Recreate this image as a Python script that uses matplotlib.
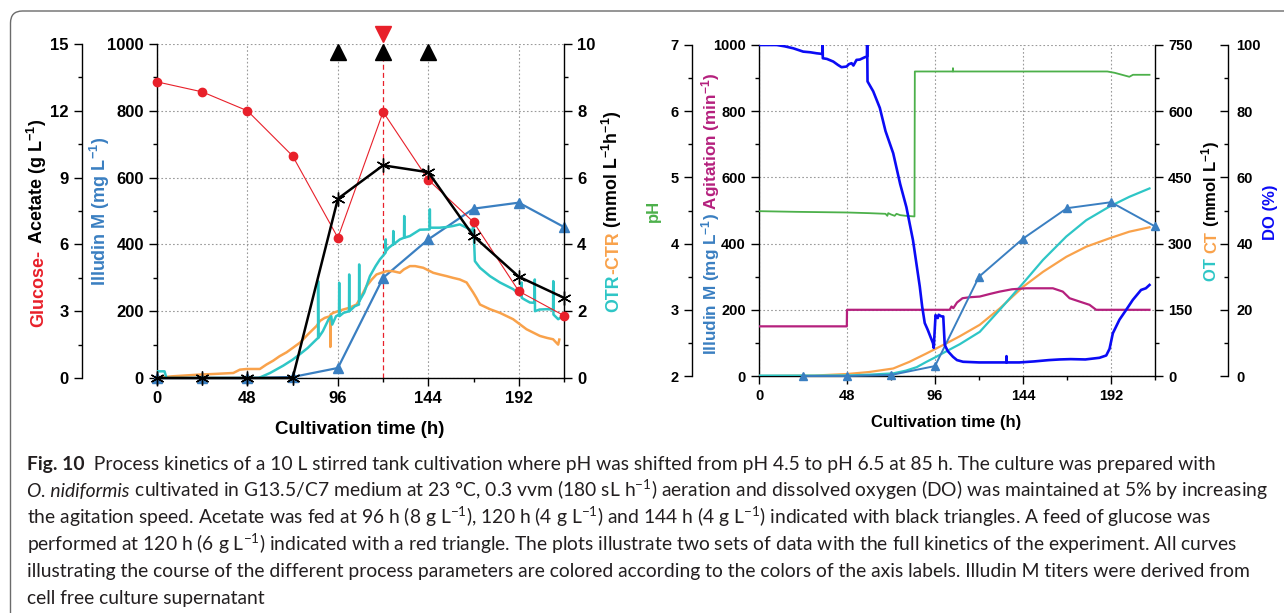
import matplotlib
matplotlib.use('Agg')
import matplotlib.pyplot as plt
from matplotlib.patches import FancyBboxPatch
from matplotlib.ticker import MultipleLocator
from matplotlib.transforms import IdentityTransform, blended_transform_factory

plt.rcParams['font.family'] = ['Liberation Sans', 'DejaVu Sans']
plt.rcParams['font.weight'] = 'bold'
plt.rcParams['mathtext.default'] = 'regular'
plt.rcParams['axes.linewidth'] = 1.0

# ---------------- data: offline samples (every 24 h)
t_smp = [0, 24, 48, 72, 96, 120, 144, 168, 192, 216]
glucose = [13.3, 12.85, 12.0, 9.97, 6.3, 11.95, 8.9, 7.0, 3.9, 2.8]        # g/L
acetate = [0, 0, 0, 0, 8.05, 9.55, 9.24, 6.37, 4.55, 3.6]                  # g/L
illudin = [0, 0, 0, 3, 30, 300, 415, 507, 525, 452]                       # mg/L
feed_acetate = [96, 120, 144]
feed_glucose = [120]

# online OTR / CTR (mmol/L/h)
otr_t = [0, 4, 5, 54, 60, 67, 72, 76, 80, 84.7, 85.5, 85.5, 85.6, 88, 91, 92.5, 93, 95, 96.6, 96.7,
         96.8, 99, 101.9, 102, 102.1, 105, 107.2, 107.3, 107.4, 110, 113, 116, 118.3, 121.3, 121.4, 121.5,
         123, 125.3, 125.4, 125.5, 128.9, 131.1, 131.2, 131.3, 134.2, 139.5, 144.7, 144.8, 144.9, 146.5,
         150, 153.7, 157, 160.7, 164.3, 167.5, 167.9, 168.7, 171.4, 176.7, 182, 189, 192.5, 193.4, 193.5,
         193.6, 195, 197.9, 200.4, 200.5, 200.6, 203, 206.7, 210.2, 210.3, 210.4, 212.9, 214]
otr = [0.2, 0.2, 0, 0, 0.15, 0.37, 0.55, 0.72, 0.9, 1.16, 1.2, 2.9, 1.2, 1.4, 1.75, 1.85, 1.6, 1.85, 1.9, 2.85,
       1.85, 1.95, 2.0, 3.1, 2.0, 2.15, 2.2, 3.4, 2.3, 2.56, 3.05, 3.35, 3.55, 3.75, 4.15, 3.8,
       3.9, 4.0, 4.4, 4.0, 4.15, 4.2, 4.85, 4.2, 4.25, 4.44, 4.45, 5.05, 4.5, 4.5,
       4.5, 4.52, 4.55, 4.6, 4.5, 4.4, 4.65, 3.5, 3.3, 3.05, 2.86, 2.66, 2.5, 2.45, 2.86,
       2.4, 2.35, 2.26, 2.25, 2.95, 2.0, 2.05, 2.06, 2.05, 2.9, 1.9, 1.76, 1.8]
ctr_t = [0, 8, 22, 30, 40.5, 44, 47.6, 54.6, 58, 61.7, 65, 68.8, 72, 75.9, 80, 84.7, 86.5, 89, 91.9, 92.0,
         92.1, 93.5, 96, 98.8, 102, 105.9, 108, 111.2, 114, 116.5, 121.8, 125, 128.9, 131, 134.2, 137,
         141.3, 146.6, 150, 153.7, 157, 160.7, 164.3, 167.8, 169.5, 171.4, 176.7, 182, 189, 196.1,
         200, 203.2, 207, 210.2, 212.9, 213.5]
ctr = [0, 0.05, 0.1, 0.12, 0.15, 0.25, 0.27, 0.27, 0.4, 0.52, 0.65, 0.77, 0.9, 1.06, 1.3, 1.56, 1.71, 1.8, 1.85, 0.93,
       1.9, 1.95, 2.0, 2.05, 2.1, 2.2, 2.4, 2.75, 2.95, 3.1, 3.2, 3.2, 3.15, 3.25, 3.35, 3.35,
       3.3, 3.15, 3.1, 3.05, 3.0, 2.95, 2.86, 2.56, 2.4, 2.2, 2.06, 1.95, 1.76, 1.46,
       1.35, 1.26, 1.2, 1.16, 1.0, 1.15]

# online DO (%), pH, agitation (1/min), OT / CT (mmol/L)
do_t = [0, 9.6, 14, 18.7, 24.1, 28, 31.4, 34.6, 34.7, 34.8, 37, 40.5, 43, 45, 47.8, 49, 50.5, 51.5, 53.2, 55,
        57.7, 58.9, 59.0, 59.2, 62.3, 65.9, 69, 73.2, 77, 80.4, 84, 87.7, 89, 90.4, 92, 94.9, 95.3, 96.3, 97.5, 98,
        99.5, 100.5, 101.3, 103, 105.8, 108, 111.3, 120, 130, 134.9, 135, 135.1, 142, 150, 158, 164, 170, 178,
        185.7, 189.4, 191.2, 193, 196.6, 200.3, 203.9, 208.4, 211, 213]
do = [100, 100, 99.6, 99, 98, 97.8, 97.5, 97.3, 101, 96, 95.8, 95, 94, 93.3, 93.5, 94.2, 94.5, 93.8, 95.5, 95.6,
      96.3, 96.5, 101, 89, 86, 81, 74, 67.3, 58, 51, 41, 27, 21, 16, 14, 9.9, 8.5, 18.4, 17.5, 18.5,
      18, 18, 9.4, 7.5, 5.8, 4.8, 4.3, 4.1, 4.1, 4.1, 6, 4.1, 4.1, 4.4, 4.8, 5.0, 5.1, 5.0,
      5.5, 6.2, 8.2, 12.9, 17, 20, 23, 26, 26.5, 27.5]
ph_t = [0, 20, 48, 60, 69, 70, 70.5, 72, 74, 75, 77, 80, 84.8, 85, 100, 105.7, 105.8, 105.9, 130, 160, 190,
        194, 198, 202, 204, 213]
ph = [4.49, 4.48, 4.47, 4.46, 4.45, 4.42, 4.46, 4.44, 4.42, 4.45, 4.43, 4.42, 4.41, 6.6, 6.6, 6.6, 6.65, 6.6,
      6.6, 6.6, 6.6, 6.58, 6.55, 6.52, 6.55, 6.55]
agi_t = [0, 47.9, 48, 104, 105, 106, 108, 111, 115, 120.4, 126, 131.3, 138, 145.8, 153, 160.3, 165.7, 169.4,
         174.8, 180.3, 183.9, 213]
agi = [150, 150, 200, 200, 210, 205, 222, 235, 238, 240, 248, 255, 262, 265, 265, 265, 255, 235, 225, 215, 200, 200]
ot_t = [0, 30, 50, 60, 73.2, 80, 86, 91.3, 96, 102.2, 109.5, 120.4, 131.3, 144, 154.9, 167.6, 178.5, 191.2, 202, 213]
ot = [1, 1, 1.5, 3, 6, 12, 20, 32, 42, 56, 72, 100, 150, 210, 263, 316, 353, 384, 406, 425]
ct_t = [0, 30, 48, 60, 73.2, 82, 91.3, 102.2, 109.5, 120.4, 131.3, 144, 154.9, 167.6, 178.5, 191.2, 202, 213]
ct = [0, 1, 4.5, 9, 17, 32, 51, 74, 90, 116, 153, 202, 236, 270, 293, 312, 327, 337]

RED = '#e8202a'
BLUE = '#3a7fc1'
CYAN = '#2ec6c6'
ORANGE = '#f9a24b'
GREEN = '#4cb04a'
MAGENTA = '#b5207d'
DOBLUE = '#0b0bf5'
GRID = '#9a9a9a'

W, H = 1284, 613
fig = plt.figure(figsize=(W / 100, H / 100), dpi=100)


def box(l, t, r, b):
    return [l / W, 1 - b / H, (r - l) / W, (b - t) / H]


def rainbow(x, y, parts, size, rot=0, center=True):
    r = fig.canvas.get_renderer()
    ts = []
    for s, c, kw in parts:
        ts.append(fig.text(0, 0, s, color=c, fontsize=size, rotation=rot, rotation_mode='anchor',
                           ha='left', va='baseline', **kw))
    lens = [(t.get_window_extent(r).height if rot else t.get_window_extent(r).width) for t in ts]
    if rot:
        pos = y + sum(lens) / 2 if center else y
    else:
        pos = x - sum(lens) / 2 if center else x
    for t, L in zip(ts, lens):
        if rot:
            t.set_position((x / W, 1 - pos / H))
            pos -= L
        else:
            t.set_position((pos / W, 1 - y / H))
            pos += L
    return ts


def only_spine(ax, keep):
    for k, s in ax.spines.items():
        s.set_visible(k in keep)
    ax.patch.set_visible(False)


def ticks(ax, axis, size, direction='out'):
    ax.tick_params(axis=axis, which='major', length=6, width=1.0, labelsize=size, direction=direction)
    ax.tick_params(axis=axis, which='minor', length=3, width=1.0, direction=direction)


# ================= left panel
axL = fig.add_axes(box(157, 44, 564, 378))
only_spine(axL, ['left', 'bottom'])
axL.set_xlim(0, 216)
axL.set_ylim(0, 1000)
axL.xaxis.set_major_locator(MultipleLocator(48))
axL.xaxis.set_minor_locator(MultipleLocator(24))
axL.yaxis.set_major_locator(MultipleLocator(200))
axL.yaxis.set_minor_locator(MultipleLocator(100))
axL.grid(True, which='major', color=GRID, linestyle=(0, (1.5, 2)), linewidth=0.8)
ticks(axL, 'both', 12)
axL.plot(t_smp, illudin, color=BLUE, lw=1.6, marker='^', ms=7, clip_on=False, zorder=3)
axL.axvline(feed_glucose[0], color=RED, lw=0.9, ls=(0, (4, 2.5)), zorder=2)
trans = blended_transform_factory(axL.transData, axL.transAxes)
axL.plot(feed_acetate, [0.975] * len(feed_acetate), ls='none', marker='^', ms=11, color='black',
         transform=trans, clip_on=False, zorder=5)
axL.plot(feed_glucose, [1.03] * len(feed_glucose), ls='none', marker='v', ms=11, color=RED,
         transform=trans, clip_on=False, zorder=5)

axO = axL.twinx()
only_spine(axO, ['right'])
axO.set_ylim(0, 10)
axO.yaxis.set_major_locator(MultipleLocator(2))
axO.yaxis.set_minor_locator(MultipleLocator(1))
ticks(axO, 'y', 12)
axO.plot(ctr_t, ctr, color=ORANGE, lw=1.8)
axO.plot(otr_t, otr, color=CYAN, lw=1.8)

axG = axL.twinx()
only_spine(axG, ['left'])
axG.spines['left'].set_position(('axes', -0.1843))
axG.yaxis.tick_left()
axG.set_ylim(0, 15)
axG.yaxis.set_major_locator(MultipleLocator(3))
axG.yaxis.set_minor_locator(MultipleLocator(1.5))
ticks(axG, 'y', 12)
axG.plot(t_smp, glucose, color=RED, lw=0.8, marker='o', ms=6, clip_on=False)
axG.plot(t_smp, acetate, color='black', lw=1.8, marker=(6, 2, 0), ms=10, mew=1.0,
         clip_on=False, zorder=4)

rainbow(43, 223, [('Glucose-', RED, {}), (' Acetate (g L$^{-1}$)', 'black', {})], 13, rot=90)
rainbow(105.5, 211, [('Illudin M (mg L$^{-1}$)', BLUE, {})], 13, rot=90)
rainbow(618, 211, [('OTR', CYAN, {}), ('-CTR', ORANGE, {}),
                   (' (mmol L$^{-1}$h$^{-1}$)', 'black', {})], 12.8, rot=90)
fig.text(360 / W, 1 - 434 / H, 'Cultivation time (h)', ha='center', va='baseline', fontsize=13.5)

# ================= right panel
axR = fig.add_axes(box(759, 45, 1155, 376))
only_spine(axR, ['left', 'bottom'])
axR.set_xlim(0, 216)
axR.set_ylim(0, 1000)
axR.xaxis.set_major_locator(MultipleLocator(48))
axR.xaxis.set_minor_locator(MultipleLocator(24))
axR.yaxis.set_major_locator(MultipleLocator(200))
axR.yaxis.set_minor_locator(MultipleLocator(100))
axR.grid(True, which='major', color=GRID, linestyle=(0, (1.5, 2)), linewidth=0.8)
ticks(axR, 'both', 10.5)

axT = axR.twinx()
only_spine(axT, ['right'])
axT.set_ylim(0, 750)
axT.yaxis.set_major_locator(MultipleLocator(150))
axT.yaxis.set_minor_locator(MultipleLocator(75))
ticks(axT, 'y', 10.5)
axT.plot(ct_t, ct, color=ORANGE, lw=1.6)
axT.plot(ot_t, ot, color=CYAN, lw=1.6)

axR2 = axR.twinx()
only_spine(axR2, [])
axR2.set_ylim(0, 1000)
axR2.set_yticks([])
axR2.plot(agi_t, agi, color=MAGENTA, lw=1.6)
axR2.plot(t_smp[1:], illudin[1:], color=BLUE, lw=1.4, marker='^', ms=6, clip_on=False)

axP = axR.twinx()
only_spine(axP, ['left'])
axP.spines['left'].set_position(('axes', -0.1692))
axP.yaxis.tick_left()
axP.set_ylim(2, 7)
axP.yaxis.set_major_locator(MultipleLocator(1))
axP.yaxis.set_minor_locator(MultipleLocator(0.5))
ticks(axP, 'y', 10.5)
axP.plot(ph_t, ph, color=GREEN, lw=1.3)

axD = axR.twinx()
only_spine(axD, ['right'])
axD.spines['right'].set_position(('axes', 1.1843))
axD.set_ylim(0, 100)
axD.yaxis.set_major_locator(MultipleLocator(20))
axD.yaxis.set_minor_locator(MultipleLocator(10))
ticks(axD, 'y', 10.5, direction='in')
axD.tick_params(axis='y', which='major', pad=6)
axD.plot(do_t, do, color=DOBLUE, lw=1.9)

rainbow(658, 211, [('pH', GREEN, {})], 12, rot=90)
rainbow(716, 214, [('Illudin M (mg L$^{-1}$)', BLUE, {}), (' Agitation (min$^{-1}$)', MAGENTA, {})], 12.3, rot=90)
rainbow(1216, 211, [('OT ', CYAN, {}), ('CT', ORANGE, {}), (' (mmol L$^{-1}$)', 'black', {})], 12, rot=90)
rainbow(1275, 212, [('DO (%)', DOBLUE, {})], 12, rot=90)
fig.text(946 / W, 1 - 427 / H, 'Cultivation time (h)', ha='center', va='baseline', fontsize=12)

# ================= caption
cap_font = ['Lato', 'DejaVu Sans']
reg = {'fontweight': 'normal', 'family': cap_font}
lines = [
    [('Fig. 10', {'fontweight': 'bold', 'family': cap_font}),
     ('  Process kinetics of a 10 L stirred tank cultivation where pH was shifted from pH 4.5 to pH 6.5 at 85 h. '
      'The culture was prepared with', reg)],
    [('O. nidiformis', {'fontweight': 'normal', 'style': 'italic', 'family': cap_font}),
     (' cultivated in G13.5/C7 medium at 23 \u00b0C, 0.3 vvm (180 sL h$^{-1}$) aeration and dissolved oxygen (DO) '
      'was maintained at 5% by increasing', reg)],
    [('the agitation speed. Acetate was fed at 96 h (8 g L$^{-1}$), 120 h (4 g L$^{-1}$) and 144 h (4 g L$^{-1}$) '
      'indicated with black triangles. A feed of glucose was', reg)],
    [('performed at 120 h (6 g L$^{-1}$) indicated with a red triangle. The plots illustrate two sets of data with '
      'the full kinetics of the experiment. All curves', reg)],
    [('illustrating the course of the different process parameters are colored according to the colors of the axis '
      'labels. Illudin M titers were derived from', reg)],
    [('cell free culture supernatant', reg)],
]
right_edges = [1145, 1271, 1247, 1268, 1248]
r = fig.canvas.get_renderer()
ratios = []
for ln, re_ in zip(lines[:5], right_edges):
    tot = 0
    for s, kw in ln:
        tt = fig.text(0, 0, s, fontsize=10, **kw)
        tot += tt.get_window_extent(r).width
        tt.remove()
    ratios.append((re_ - 27) / tot)
ratios.sort()
cap_size = 10 * ratios[len(ratios) // 2]
for i, ln in enumerate(lines):
    rainbow(27, 470 + 26.8 * i, [(s, '#231f20', kw) for s, kw in ln], cap_size, center=False)

fig.patches.append(FancyBboxPatch((10.5, -40), 1400, 613 - 11 + 40, boxstyle='round,pad=0,rounding_size=12',
                                  transform=IdentityTransform(), fill=False, edgecolor='#6b6b6b', lw=1.0,
                                  figure=fig))

fig.savefig('out.png', dpi=100)
